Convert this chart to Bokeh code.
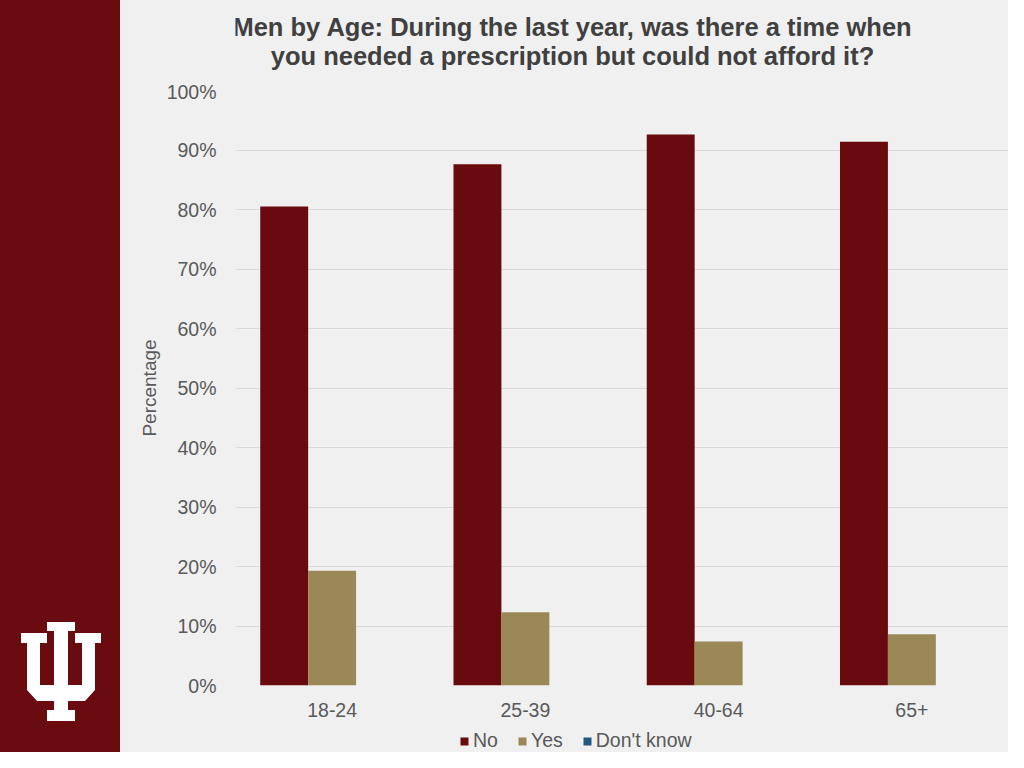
from bokeh.plotting import figure
from bokeh.models import (ColumnDataSource, FactorRange, Range1d, FixedTicker,
                          PrintfTickFormatter, Legend, LegendItem, Div)
from bokeh.core.properties import value
from bokeh.transform import dodge
from bokeh.layouts import row, column
from bokeh.embed import file_html
from bokeh.resources import INLINE

# ---- data ----
categories = ["18-24", "25-39", "40-64", "65+"]
no_vals = [80.5, 87.6, 92.6, 91.4]
yes_vals = [19.3, 12.3, 7.4, 8.6]
dk_vals = [0.0, 0.0, 0.0, 0.0]
series_names = ["No", "Yes", "Don't know"]
y_tick_values = [0, 10, 20, 30, 40, 50, 60, 70, 80, 90, 100]
title_lines = ["Men by Age: During the last year, was there a time when",
               "you needed a prescription but could not afford it?"]

FONT = "Liberation Sans"
MAROON = "#690a0e"
BAND = "#6a0c0f"
KHAKI = "#9b8857"
BLUE = "#23597c"
BG = "#f0f0f0"
TXT = "#595959"

# ---- left band with the IU logo (decoration) ----
logo_x = [47, 75, 75, 68, 68, 82, 82, 75, 75, 101, 101, 95, 95, 85, 68, 68, 75, 75,
          47, 47, 54, 54, 37, 27, 27, 21, 21, 47, 47, 40, 40, 54, 54, 47]
logo_y = [622, 622, 631, 631, 685, 685, 643, 643, 633, 633, 643, 643, 690, 701, 701, 710, 710, 721,
          721, 710, 710, 701, 701, 690, 643, 643, 633, 633, 643, 643, 685, 685, 631, 631]
pts = " ".join(f"{x},{y}" for x, y in zip(logo_x, logo_y))
band = Div(width=120, height=752,
           text=f'<svg width="120" height="752" style="display:block">'
                f'<rect x="0" y="0" width="120" height="752" fill="{BAND}"/>'
                f'<polygon points="{pts}" fill="white"/></svg>',
           styles={"background-color": BAND, "margin": "0", "padding": "0"})


def bare(fig):
    fig.background_fill_color = BG
    fig.border_fill_color = BG
    fig.outline_line_color = None
    fig.grid.visible = False


# ---- title strip (ref y 0..80) ----
tfig = figure(width=888, height=80, output_backend="svg", toolbar_location=None,
              x_range=Range1d(235, 1008), y_range=Range1d(80, 0),
              x_axis_type=None, y_axis_type=None,
              min_border_left=115, min_border_right=0, min_border_top=0, min_border_bottom=0)
bare(tfig)
tsrc = ColumnDataSource(dict(x=[572, 572], y=[26.0, 55.5], t=title_lines))
tfig.text(x="x", y="y", text="t", source=tsrc, text_align="center",
          text_baseline="middle", text_font=value(FONT), text_font_size="25.5px",
          text_font_style="bold", text_color="#404040")

# ---- main chart (ref y 80..720) ----
src = ColumnDataSource(dict(cat=categories, no=no_vals, yes=yes_vals, dk=dk_vals))

p = figure(width=888, height=640, output_backend="svg", toolbar_location=None,
           x_range=FactorRange(*categories, range_padding=0),
           y_range=Range1d(0, 100),
           min_border_left=115, min_border_right=0, min_border_top=10,
           min_border_bottom=35)
bare(p)

bw = 0.248
p.vbar(x=dodge("cat", -bw, range=p.x_range), top="no", width=bw, source=src,
       fill_color=MAROON, line_color=None)
p.vbar(x=dodge("cat", 0.0, range=p.x_range), top="yes", width=bw, source=src,
       fill_color=KHAKI, line_color=None)
p.vbar(x=dodge("cat", bw, range=p.x_range), top="dk", width=bw, source=src,
       fill_color=BLUE, line_color=None)

p.ygrid.visible = True
p.ygrid.grid_line_color = "#d9d9d9"
p.ygrid.grid_line_width = 1
p.yaxis.ticker = FixedTicker(ticks=y_tick_values)
p.yaxis.formatter = PrintfTickFormatter(format="%d%%")

for ax in (p.xaxis[0], p.yaxis[0]):
    ax.axis_line_color = None
    ax.major_tick_line_color = None
    ax.minor_tick_line_color = None
    ax.major_label_text_font = FONT
    ax.major_label_text_font_size = "19.5px"
    ax.major_label_text_color = TXT

p.yaxis.major_label_standoff = 13
p.yaxis.axis_label = "Percentage"
p.yaxis.axis_label_text_font = FONT
p.yaxis.axis_label_text_font_size = "19px"
p.yaxis.axis_label_text_font_style = "normal"
p.yaxis.axis_label_text_color = TXT
p.yaxis.axis_label_standoff = 4
p.xaxis.major_label_standoff = 11

# ---- legend strip (ref y 720..752); swatch renderers use the same data, kept out of view ----
lfig = figure(width=888, height=32, output_backend="svg", toolbar_location=None,
              x_range=p.x_range, y_range=Range1d(5000, 5001),
              x_axis_type=None, y_axis_type=None,
              min_border_left=115, min_border_right=0, min_border_top=0, min_border_bottom=0)
bare(lfig)
lr = [lfig.vbar(x=dodge("cat", off, range=p.x_range), top=col, width=0.0, source=src,
                fill_color=c, line_color=None)
      for off, col, c in ((-bw, "no", MAROON), (0.0, "yes", KHAKI), (bw, "dk", BLUE))]
legend = Legend(items=[LegendItem(label=n, renderers=[r]) for n, r in zip(series_names, lr)],
                orientation="horizontal", location=(224, 0),
                glyph_width=10, glyph_height=10, label_standoff=4, spacing=19,
                label_text_font=FONT, label_text_font_size="19.5px",
                label_text_color=TXT, background_fill_alpha=0,
                border_line_color=None, padding=3, margin=0)
lfig.add_layout(legend, "center")

layout = row(band,
             column(tfig, p, lfig, spacing=0, styles={"background-color": BG}),
             spacing=0, styles={"background-color": BG})
open("out.html", "w").write(file_html(layout, INLINE))
